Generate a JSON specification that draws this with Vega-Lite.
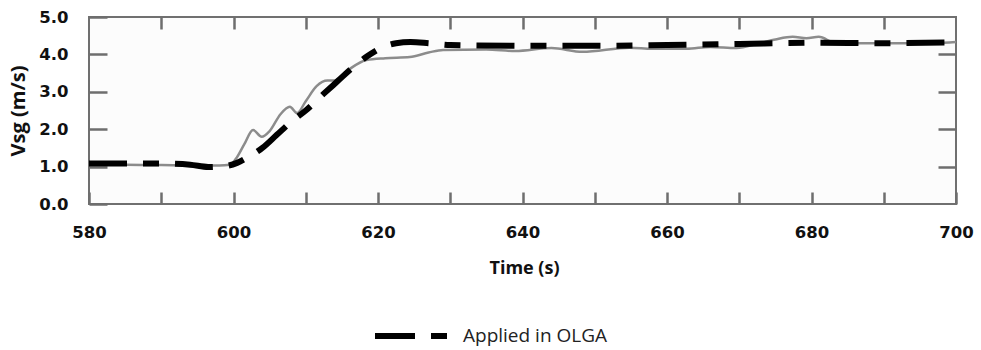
{
  "$schema": "https://vega.github.io/schema/vega-lite/v6.json",
  "width": 867,
  "height": 187,
  "autosize": {"type": "none"},
  "padding": {"left": 89, "top": 17, "right": 25, "bottom": 146},
  "background": "white",
  "config": {
    "view": {"stroke": "#707070", "strokeWidth": 2, "fill": "#fcfcfc"},
    "font": "Open Sans"
  },
  "datasets": {
    "measured": [
      {"time": 580, "v": 1.05}, {"time": 585, "v": 1.05}, {"time": 590, "v": 1.04},
      {"time": 595, "v": 1.03}, {"time": 598, "v": 1.03}, {"time": 599.5, "v": 1.05},
      {"time": 600.3, "v": 1.2}, {"time": 601.5, "v": 1.6}, {"time": 602.7, "v": 1.98},
      {"time": 603.9, "v": 1.8}, {"time": 605, "v": 1.95}, {"time": 606.5, "v": 2.4},
      {"time": 607.8, "v": 2.6}, {"time": 608.8, "v": 2.43}, {"time": 610, "v": 2.75},
      {"time": 611.5, "v": 3.15}, {"time": 613, "v": 3.3}, {"time": 614, "v": 3.3},
      {"time": 616, "v": 3.6}, {"time": 618.4, "v": 3.85}, {"time": 621, "v": 3.9},
      {"time": 624.4, "v": 3.93}, {"time": 627, "v": 4.05}, {"time": 629, "v": 4.12},
      {"time": 635, "v": 4.13}, {"time": 639, "v": 4.09}, {"time": 644, "v": 4.17},
      {"time": 648.3, "v": 4.07}, {"time": 654.8, "v": 4.18}, {"time": 658, "v": 4.15},
      {"time": 662.7, "v": 4.15}, {"time": 666, "v": 4.2}, {"time": 669.6, "v": 4.17},
      {"time": 672.8, "v": 4.3}, {"time": 675, "v": 4.4}, {"time": 677.4, "v": 4.47},
      {"time": 679.3, "v": 4.43}, {"time": 681, "v": 4.47}, {"time": 683.4, "v": 4.3},
      {"time": 687, "v": 4.3}, {"time": 690.4, "v": 4.3}, {"time": 694, "v": 4.3},
      {"time": 697, "v": 4.3}, {"time": 700, "v": 4.33}
    ],
    "olga": [
      {"time": 580, "v": 1.08}, {"time": 585, "v": 1.08}, {"time": 590, "v": 1.08},
      {"time": 594, "v": 1.05}, {"time": 596.5, "v": 0.99}, {"time": 599, "v": 1.02},
      {"time": 600.5, "v": 1.1}, {"time": 602, "v": 1.25}, {"time": 604, "v": 1.5},
      {"time": 606, "v": 1.85}, {"time": 608, "v": 2.2}, {"time": 610, "v": 2.5},
      {"time": 612.5, "v": 2.95}, {"time": 614.5, "v": 3.3}, {"time": 616.5, "v": 3.65},
      {"time": 618.5, "v": 3.95}, {"time": 620.5, "v": 4.18}, {"time": 622.5, "v": 4.3},
      {"time": 624.5, "v": 4.33}, {"time": 627, "v": 4.3}, {"time": 630, "v": 4.25},
      {"time": 640, "v": 4.23}, {"time": 650, "v": 4.23}, {"time": 660, "v": 4.25},
      {"time": 670, "v": 4.28}, {"time": 680, "v": 4.31}, {"time": 690, "v": 4.3},
      {"time": 700, "v": 4.32}
    ]
  },
  "layer": [
    {
      "data": {"name": "measured"},
      "mark": {"type": "line", "color": "#8c8c8c", "strokeWidth": 2.5, "interpolate": "monotone"},
      "encoding": {
        "x": {
          "field": "time", "type": "quantitative",
          "scale": {"domain": [580, 700], "nice": false, "zero": false},
          "axis": {
            "orient": "bottom",
            "values": [580, 590, 600, 610, 620, 630, 640, 650, 660, 670, 680, 690, 700],
            "labelExpr": "datum.value % 20 == 0 ? datum.label : ''",
            "domain": false, "grid": false,
            "tickSize": -12, "tickColor": "#6e6e6e", "tickWidth": 2.5,
            "labelPadding": 32, "labelFlush": false, "labelOverlap": false,
            "labelFont": "DejaVu Sans", "labelFontSize": 16.5, "labelFontWeight": "bold", "labelColor": "#111111",
            "title": "Time (s)", "titleFont": "Open Sans", "titleFontSize": 18, "titleFontWeight": "bold",
            "titleColor": "#111111", "titleX": 435, "titleY": 64, "titleAlign": "center", "titleBaseline": "middle"
          }
        },
        "y": {
          "field": "v", "type": "quantitative",
          "scale": {"domain": [0, 5], "nice": false},
          "axis": {
            "orient": "left",
            "values": [0, 1, 2, 3, 4, 5],
            "format": ".1f",
            "domain": false, "grid": false,
            "tickSize": -18, "tickColor": "#6e6e6e", "tickWidth": 2.5,
            "labelPadding": 39,
            "labelFont": "DejaVu Sans", "labelFontSize": 16.5, "labelFontWeight": "bold", "labelColor": "#111111",
            "title": "Vsg (m/s)", "titleFont": "Open Sans", "titleFontSize": 20, "titleFontWeight": "bold",
            "titleColor": "#111111", "titleX": -71, "titleY": 93.5, "titleAngle": -90,
            "titleAlign": "center", "titleBaseline": "middle"
          }
        }
      }
    },
    {
      "data": {"name": "olga"},
      "mark": {"type": "line", "strokeWidth": 6, "strokeDash": [38, 16, 16, 16], "interpolate": "monotone"},
      "encoding": {
        "x": {
          "field": "time", "type": "quantitative",
          "axis": {
            "orient": "top",
            "values": [590, 600, 610, 620, 630, 640, 650, 660, 670, 680, 690],
            "labels": false, "title": null, "domain": false, "grid": false,
            "tickSize": -12, "tickColor": "#6e6e6e", "tickWidth": 2.5
          }
        },
        "y": {
          "field": "v", "type": "quantitative",
          "axis": {
            "orient": "right",
            "values": [1, 2, 3, 4],
            "labels": false, "title": null, "domain": false, "grid": false,
            "tickSize": -18, "tickColor": "#6e6e6e", "tickWidth": 2.5
          }
        },
        "color": {
          "datum": "Applied in OLGA",
          "type": "nominal",
          "scale": {"range": ["#000000"]},
          "legend": {
            "orient": "none", "legendX": 283, "legendY": 280,
            "direction": "horizontal", "title": null,
            "symbolType": "stroke", "symbolSize": 5184, "symbolStrokeWidth": 6,
            "symbolDash": [40, 16, 16, 16], "symbolStrokeColor": "#000000",
            "labelFont": "Open Sans", "labelFontSize": 19, "labelColor": "#222222", "labelOffset": 13
          }
        }
      }
    }
  ],
  "resolve": {"axis": {"x": "independent", "y": "independent"}}
}
